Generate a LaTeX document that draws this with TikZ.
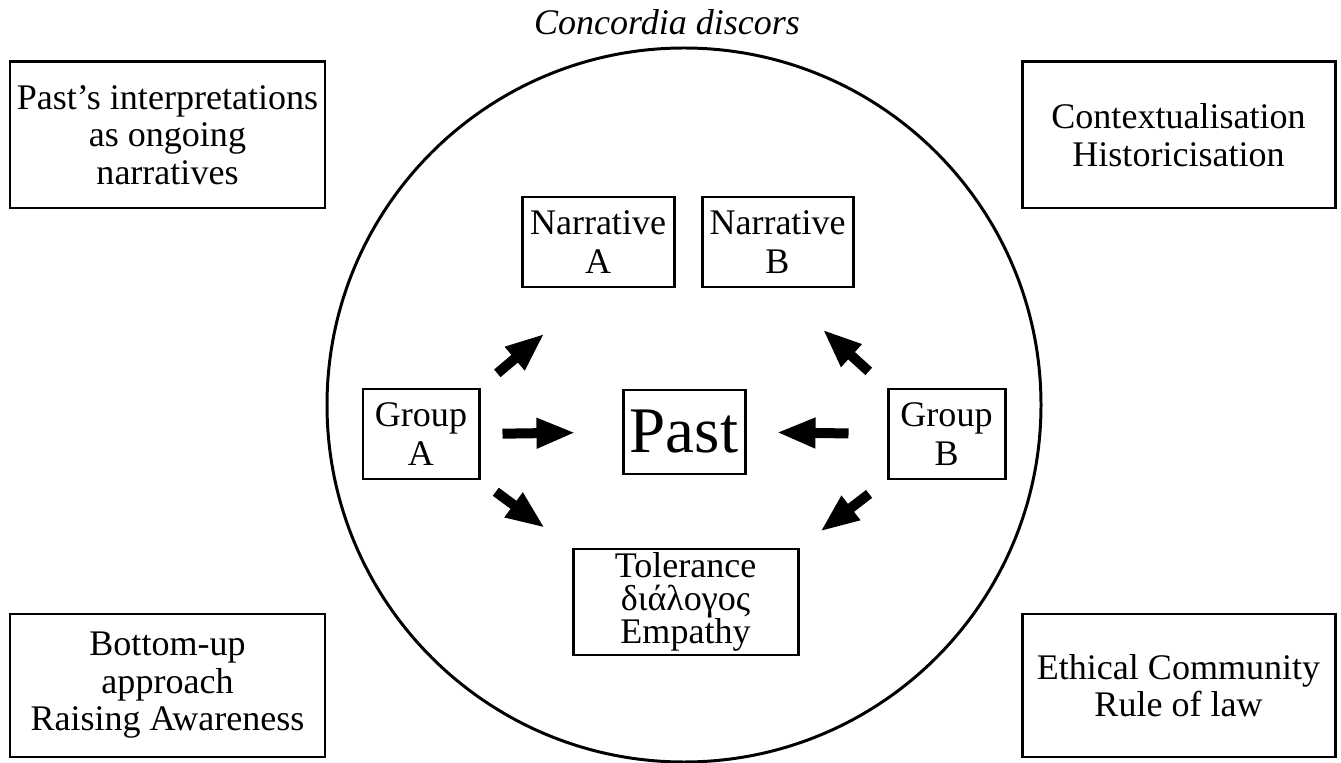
\documentclass[tikz,border=0pt]{standalone}
\usepackage{fontspec}
\setmainfont{Liberation Serif}
\usetikzlibrary{arrows.meta}
\tikzset{%
    my box/.style={%
        draw,
        line width=1.7pt,
        align=center,
        inner sep=0pt,
        font=\fontsize{20.5}{21.3}\selectfont
    },
    my arrow/.style={%
        line width=0.2cm,
        -{Triangle[length=0.78cm,width=0.56cm]}
    }%
}

\begin{document}
\begin{tikzpicture}
\useasboundingbox (0,0) rectangle (26.82,15.24);

\node[draw, circle, line width=1.7pt, minimum size=14.28cm, inner sep=0pt] (ring) at (13.68,7.14) {};
\node[anchor=base, font=\itshape\fontsize{20.5}{21.3}\selectfont] (title) at (13.34,14.55) {Concordia discors};

% corner boxes
\node[my box, minimum width=6.3cm, minimum height=2.92cm] (interp) at (3.35,12.54)
    {Past's interpretations\\as ongoing\\narratives};
\node[my box, minimum width=6.26cm, minimum height=2.92cm] (context) at (23.57,12.54)
    {Contextualisation\\Historicisation};
\node[my box, minimum width=6.3cm, minimum height=2.86cm] (bottom) at (3.35,1.53)
    {Bottom-up\\approach\\Raising Awareness};
\node[my box, minimum width=6.26cm, minimum height=2.86cm] (ethic) at (23.57,1.53)
    {Ethical Community\\Rule of law};

% inside the circle
\node[my box, minimum width=3.04cm, minimum height=1.8cm, font=\fontsize{20.5}{22.5}\selectfont] (nA) at (11.96,10.4) {Narrative\\A};
\node[my box, minimum width=3.02cm, minimum height=1.8cm, font=\fontsize{20.5}{22.5}\selectfont] (nB) at (15.55,10.4) {Narrative\\B};
\node[my box, minimum width=2.32cm, minimum height=1.8cm, font=\fontsize{20.5}{22.5}\selectfont] (gA) at (8.42,6.56) {Group\\A};
\node[my box, minimum width=2.34cm, minimum height=1.8cm, font=\fontsize{20.5}{22.5}\selectfont] (gB) at (18.93,6.56) {Group\\B};
\node[my box, minimum width=2.44cm, minimum height=1.68cm, font=\fontsize{37}{40}\selectfont] (past) at (13.68,6.6) {Past};
\node[my box, minimum width=4.5cm, minimum height=2.12cm, font=\fontsize{20.5}{18.8}\selectfont] (tA) at (13.71,3.2)
    {Tolerance\\διάλογος\\Empathy};

\draw[my arrow, shorten <=0.44cm, shorten >=1.4cm] (gA.north east) -- (nA.south);
\draw[my arrow, shorten <=0.44cm, shorten >=0.92cm] (gA.east) -- (past.west);
\draw[my arrow, shorten <=0.38cm, shorten >=0.66cm] (gA.south east) -- (tA.north west);
\draw[my arrow, shorten <=0.48cm, shorten >=1.22cm] (gB.north west) -- (nB.south);
\draw[my arrow, shorten <=0.76cm, shorten >=0.6cm] (gB.west) -- (past.east);
\draw[my arrow, shorten <=0.44cm, shorten >=0.52cm] (gB.south west) -- (tA.north east);
\end{tikzpicture}
\end{document}
